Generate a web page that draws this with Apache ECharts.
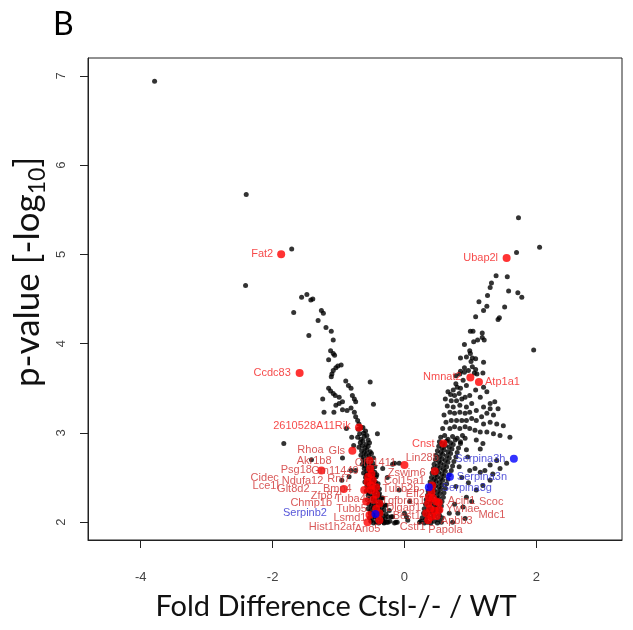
<!DOCTYPE html>
<html><head><meta charset="utf-8">
<script src="https://cdn.jsdelivr.net/npm/echarts@6.0.0/dist/echarts.min.js"></script>
<style>html,body{margin:0;padding:0;background:#fff}#c{width:633px;height:630px}</style>
</head><body><div id="c"></div>
<script>
// ---------------- data ----------------
const xTicks = [-4, -2, 0, 2];
const yTicks = [2, 3, 4, 5, 6, 7];

// unlabelled genes: [fold difference, -log10 p]
const otherGenes = [
[-3.79,6.94],[-2.40,5.67],[-1.71,5.06],[-2.41,4.65],
[-1.56,4.52],[-1.48,4.55],[-1.42,4.49],[-1.39,4.50],[-1.68,4.35],[-1.26,4.37],[-1.23,4.34],[-1.31,4.26],[-1.45,4.09],[-1.19,4.18],[-1.11,4.14],[-1.08,4.04],[-1.12,3.92],[-1.08,3.89],[-1.06,3.87],[-1.15,3.82],[-1.01,3.75],[-0.96,3.76],[-1.04,3.73],[-1.08,3.70],[-1.10,3.66],[-1.11,3.63],
[-0.52,3.57],[-0.89,3.58],[-0.85,3.53],[-0.81,3.50],[-0.79,3.42],[-0.76,3.38],[-0.74,3.35],[-0.81,3.28],[-0.76,3.23],[-0.74,3.18],[-0.71,3.14],[-0.69,3.10],[-0.66,3.06],
[-1.15,3.50],[-1.12,3.47],[-1.08,3.44],[-1.05,3.42],[-1.24,3.38],[-0.99,3.40],[-0.99,3.33],[-0.94,3.35],[-1.04,3.31],[-1.22,3.23],[-1.07,3.23],[-0.94,3.26],[-0.87,3.25],
[-0.47,3.32],[-0.41,2.99],[-1.83,2.88],[-1.41,2.70],[-0.94,2.72],[-0.81,2.58],[-0.84,2.51],[-0.74,2.58],[-0.95,2.47],[-0.88,3.05],[-0.80,2.95],[-0.77,2.86],
[-0.70,3.04],[-0.63,3.06],[-0.59,3.02],[-0.68,2.99],[-0.62,3.00],[-0.57,2.97],
[-0.71,2.95],[-0.66,2.93],[-0.61,2.96],[-0.55,2.92],[-0.67,2.89],[-0.63,2.91],[-0.58,2.87],[-0.53,2.89],
[-0.69,2.84],[-0.64,2.86],[-0.60,2.83],[-0.55,2.85],[-0.65,2.80],[-0.61,2.78],[-0.57,2.81],[-0.52,2.79],
[-0.66,2.75],[-0.62,2.73],[-0.58,2.76],[-0.54,2.74],[-0.50,2.77],[-0.63,2.70],[-0.59,2.68],[-0.55,2.71],[-0.51,2.69],[-0.47,2.72],
[-0.64,2.65],[-0.60,2.63],[-0.56,2.66],[-0.52,2.64],[-0.48,2.66],[-0.61,2.60],[-0.57,2.58],[-0.54,2.61],[-0.49,2.59],[-0.45,2.62],
[-0.62,2.55],[-0.58,2.53],[-0.53,2.56],[-0.49,2.54],[-0.45,2.56],[-0.42,2.53],[-0.59,2.50],[-0.55,2.48],[-0.51,2.51],[-0.47,2.49],[-0.43,2.51],
[-0.60,2.45],[-0.56,2.43],[-0.52,2.46],[-0.48,2.44],[-0.44,2.45],[-0.40,2.43],[-0.57,2.40],[-0.53,2.38],[-0.49,2.41],[-0.45,2.39],[-0.41,2.40],[-0.38,2.37],
[-0.58,2.35],[-0.54,2.33],[-0.50,2.36],[-0.46,2.34],[-0.42,2.35],[-0.38,2.32],[-0.55,2.30],[-0.51,2.28],[-0.47,2.31],[-0.43,2.29],[-0.39,2.30],[-0.35,2.27],
[-0.56,2.25],[-0.52,2.23],[-0.48,2.26],[-0.44,2.24],[-0.40,2.25],[-0.36,2.22],[-0.54,2.20],[-0.50,2.18],[-0.46,2.21],[-0.42,2.19],[-0.38,2.20],[-0.34,2.17],[-0.30,2.19],
[-0.55,2.15],[-0.51,2.13],[-0.47,2.16],[-0.43,2.14],[-0.39,2.15],[-0.35,2.12],[-0.31,2.14],[-0.52,2.10],[-0.48,2.08],[-0.44,2.11],[-0.40,2.09],[-0.36,2.10],[-0.32,2.07],[-0.28,2.09],
[-0.53,2.05],[-0.49,2.03],[-0.45,2.06],[-0.41,2.04],[-0.37,2.05],[-0.33,2.02],[-0.29,2.04],[-0.25,2.06],
[-0.51,2.01],[-0.47,1.99],[-0.43,2.00],[-0.39,1.99],[-0.35,2.01],[-0.31,1.99],[-0.27,2.00],[-0.22,2.01],
[-0.23,2.13],[-0.18,2.06],[-0.25,2.00],[-0.13,2.00],[-0.28,2.19],[-0.15,1.99],[0.00,2.10],[0.05,2.02],[0.08,2.23],[0.03,2.06],[0.23,2.00],
[-0.18,2.65],[-0.08,2.66],[-0.33,2.60],[-0.15,2.66],[-0.26,2.50],[-0.08,2.36],[-0.33,2.27],[-0.20,2.06],[-0.31,2.00],[-0.11,2.00],
[0.89,3.59],[0.94,3.53],[0.80,3.51],[0.74,3.48],[0.70,3.43],[0.76,3.42],[0.83,3.44],[0.71,3.36],[0.79,3.36],[0.87,3.38],[0.92,3.40],[0.99,3.42],[1.08,3.48],[1.20,3.51],[1.25,3.46],[1.15,3.40],
[1.02,3.33],[0.94,3.29],[0.84,3.31],[0.74,3.29],[0.69,3.23],[0.76,3.22],[0.84,3.23],[0.92,3.22],[0.99,3.23],[1.09,3.25],[1.20,3.29],[1.30,3.33],[1.37,3.35],[1.17,3.18],[1.25,3.22],[1.35,3.20],
[0.71,3.14],[0.79,3.14],[0.87,3.14],[0.94,3.14],[1.02,3.16],[1.09,3.14],[1.20,3.10],[1.30,3.12],[1.40,3.10],[1.50,3.08],[0.69,3.05],[0.76,3.07],[0.84,3.05],[0.92,3.07],[0.99,3.05],[1.07,3.03],[1.15,3.01],[1.25,3.01],[1.35,2.99],[1.45,2.97],[1.60,2.95],
[0.62,3.38],[0.65,3.30],[0.60,3.20],[0.63,3.12],[0.58,3.05],[0.66,3.46],[0.78,3.55],[0.85,3.50],[1.42,3.27],[1.30,3.27],
[1.73,5.41],[2.05,5.08],[1.70,5.02],[1.39,4.76],[1.56,4.75],[1.32,4.68],[1.30,4.63],[1.58,4.59],[1.72,4.57],[1.78,4.52],[1.26,4.54],[1.13,4.47],[1.25,4.42],[1.20,4.37],[1.52,4.41],[1.44,4.29],[1.42,4.27],[1.08,4.30],
[1.00,4.14],[1.04,4.14],[1.18,4.12],[1.18,4.07],[1.21,4.04],[1.11,4.04],[1.05,4.02],[0.91,3.99],[1.96,3.93],[0.99,3.92],[1.00,3.89],[0.85,3.84],[0.94,3.85],[1.03,3.84],[1.08,3.83],[1.01,3.80],[1.20,3.79],
[0.91,3.73],[0.97,3.70],[1.03,3.74],[1.08,3.71],[0.85,3.69],[0.84,3.66],[1.06,3.67],[0.91,3.68],[1.19,3.67],[1.10,3.66],[0.78,3.64],
[0.55,2.95],[0.61,2.97],[0.66,2.93],[0.73,2.96],[0.80,2.94],[0.88,2.97],[0.53,2.90],[0.58,2.88],[0.64,2.91],[0.70,2.89],[0.77,2.92],[0.85,2.88],
[0.52,2.85],[0.57,2.83],[0.62,2.86],[0.68,2.84],[0.74,2.87],[0.82,2.83],[0.50,2.80],[0.55,2.78],[0.60,2.81],[0.66,2.79],[0.72,2.82],[0.80,2.78],
[0.48,2.75],[0.53,2.73],[0.58,2.76],[0.64,2.74],[0.70,2.77],[0.78,2.73],[0.47,2.70],[0.52,2.68],[0.57,2.71],[0.62,2.69],[0.68,2.72],[0.75,2.68],
[0.45,2.65],[0.50,2.63],[0.55,2.66],[0.60,2.64],[0.66,2.67],[0.73,2.63],[0.44,2.60],[0.49,2.58],[0.54,2.61],[0.59,2.59],[0.64,2.62],[0.71,2.58],
[0.42,2.55],[0.47,2.53],[0.52,2.56],[0.57,2.54],[0.62,2.57],[0.68,2.53],[0.41,2.50],[0.45,2.48],[0.50,2.51],[0.55,2.49],[0.60,2.52],[0.66,2.48],
[0.39,2.45],[0.44,2.43],[0.48,2.46],[0.53,2.44],[0.58,2.47],[0.64,2.43],[0.38,2.40],[0.42,2.38],[0.47,2.41],[0.52,2.39],[0.57,2.42],[0.62,2.38],
[0.36,2.35],[0.41,2.33],[0.45,2.36],[0.50,2.34],[0.55,2.37],[0.60,2.33],[0.35,2.30],[0.39,2.28],[0.44,2.31],[0.49,2.29],[0.54,2.32],[0.59,2.28],
[0.33,2.25],[0.38,2.23],[0.42,2.26],[0.47,2.24],[0.52,2.27],[0.57,2.23],[0.32,2.20],[0.36,2.18],[0.41,2.21],[0.46,2.19],[0.51,2.22],[0.56,2.18],
[0.30,2.15],[0.35,2.13],[0.39,2.16],[0.44,2.14],[0.49,2.17],[0.54,2.13],[0.29,2.10],[0.33,2.08],[0.38,2.11],[0.43,2.09],[0.48,2.12],[0.53,2.08],
[0.27,2.05],[0.32,2.03],[0.36,2.06],[0.41,2.04],[0.46,2.07],[0.51,2.03],[0.57,2.05],[0.25,2.01],[0.30,1.99],[0.35,2.00],[0.40,1.99],[0.45,2.01],[0.50,1.99],[0.56,2.00],
[0.92,2.94],[1.15,2.82],[0.99,2.58],[1.07,2.60],[1.15,2.56],[1.22,2.58],[1.30,2.64],[1.34,2.54],[0.87,2.50],[0.97,2.44],[1.45,2.60],[1.55,2.66],[1.40,2.69],[0.94,2.81],[1.09,2.92],[1.19,2.88],[0.96,2.73],
[1.19,2.41],[1.30,2.47],[1.09,2.36],[0.94,2.28],[1.02,2.23],[0.89,2.17],[0.81,2.10],[0.92,2.04],[0.73,2.00],[0.85,2.90],[0.83,2.62],[0.78,2.40],[0.76,2.20],[0.68,2.10]
];

// highlighted genes (red)
const redGenes = ["Fat2","Ccdc83","2610528A11Rik","Gls","Psg18","Rhoa","Akr1b8","Gm11449","Cidec","Rnf7","Ndufa12","Bmp4","","Lce1l","Glt8d2","","Zfp87","Tuba4a","Chmp1b","","Tubb5","Hist1h2af","Lsmd1","Ano5","","Olfr1411",
  "Ubap2l","Nmnat2","Atp1a1","Cnst","Lin28b","Zswim6","Col15a1","Tubb2b","Efl2","Acin1","Tgfbrap1","Dlgap1","Ywhae","Best1","Papola","Cstf1","Apbb3","Scoc","Mdc1"];
const redFold = [-1.87,-1.59,-0.69,-0.79,-1.26,-0.53,-0.52,-0.50,-0.55,-0.48,-0.56,-0.51,-0.43,-0.61,-0.51,-0.43,-0.92,-0.47,-0.58,-0.38,-0.43,-0.53,-0.38,-0.56,-0.38,0.00,
  1.55,1.00,1.13,0.59,0.46,0.42,0.41,0.37,0.43,0.48,0.36,0.39,0.46,0.33,0.41,0.36,0.49,0.52,0.53];
const redP = [5.00,3.67,3.06,2.80,2.58,2.69,2.60,2.54,2.51,2.47,2.45,2.41,2.39,2.36,2.36,2.31,2.37,2.25,2.23,2.21,2.15,2.08,2.10,2.00,2.02,2.64,
  4.96,3.62,3.57,2.88,2.57,2.41,2.34,2.28,2.27,2.23,2.21,2.15,2.13,2.10,2.06,2.02,2.07,2.22,2.14];

// highlighted genes (blue)
const blueGenes = ["Serpina3h","Serpina3n","Serpina3g","Serpinb2"];
const blueFold = [1.66,0.69,0.37,-0.44];
const blueP = [2.71,2.51,2.39,2.09];

// ---------------- label layout (pixel offsets from point) ----------------
const labelOffsets = {
  "Fat2":[-19,0],"Ccdc83":[-27.5,0],"2610528A11Rik":[-47,-2],"Gls":[-15.5,0],"Psg18":[-25,0],"Rhoa":[-59,-11],"Akr1b8":[-56,-8],
  "Gm11449":[-36.5,-3],"Cidec":[-103.5,1],"Rnf7":[-34,-1],"Ndufa12":[-65,-1],"Bmp4":[-33.5,3],"Lce1l":[-98.5,-4],"Glt8d2":[-77.5,-1],
  "Zfp87":[-19,7],"Tuba4a":[-20,-1],"Chmp1b":[-55,1],"Tubb5":[-24.5,0],"Hist1h2af":[-37.5,12],"Lsmd1":[-29.5,5],"Ano5":[0,7],"Olfr1411":[-29,-2],
  "Ubap2l":[-26,0],"Nmnat2":[-28,-1],"Atp1a1":[23.5,0],"Cnst":[-20,0],"Lin28b":[-12.5,-13],"Zswim6":[-25.5,-13],"Col15a1":[-27,-11],
  "Tubb2b":[-28,-8],"Efl2":[-17.5,-4],"Tgfbrap1":[-25,-2],"Dlgap1":[-26.5,-1],"Best1":[-19.5,3],"Cstf1":[-15.5,7],"Papola":[14,13],
  "Acin1":[25.5,-1],"Ywhae":[28,-2],"Apbb3":[20,5],"Scoc":[52.5,-1],"Mdc1":[52.5,5],
  "Serpina3h":[-33.5,0],"Serpina3n":[32,0],"Serpina3g":[38,1],"Serpinb2":[-70.5,-1]
};
const brightLabels = ["Fat2","Ccdc83","2610528A11Rik","Ubap2l","Nmnat2","Atp1a1","Cnst"];

const LABEL_FONT = "Liberation Sans";
function items(names, xs, ys, color) {
  return names.map((n, i) => ({
    name: n,
    value: [xs[i], ys[i]],
    label: {
      show: n !== "",
      offset: labelOffsets[n] || [0, 0],
      color: color === 'blue' ? '#2b2bd0' : (brightLabels.includes(n) ? '#f41c1c' : '#cf2e2e')
    }
  }));
}
const pointLabel = {
  position: 'inside', formatter: '{b}', fontSize: 11, fontFamily: LABEL_FONT,
  align: 'center', verticalAlign: 'middle'
};

const chart = echarts.init(document.getElementById('c'), null, {renderer: 'canvas'});
chart.setOption({
  animation: false,
  backgroundColor: '#fff',
  grid: {left: 88, top: 58, width: 534, height: 482, show: true, borderColor: '#222', borderWidth: 1},
  xAxis: {
    type: 'value', min: -4.8, max: 3.3, z: 10,
    splitLine: {show: false}, axisLine: {show: true, onZero: false, lineStyle: {color: '#222', width: 1}},
    axisTick: {show: true, customValues: xTicks, length: 8, lineStyle: {color: '#222', width: 1}},
    axisLabel: {customValues: xTicks, margin: 31, fontSize: 13, color: '#444', fontFamily: LABEL_FONT}
  },
  yAxis: {
    type: 'value', min: 1.8, max: 7.2, z: 10,
    splitLine: {show: false}, axisLine: {show: true, onZero: false, lineStyle: {color: '#222', width: 1}},
    axisTick: {show: true, customValues: yTicks, length: 8, lineStyle: {color: '#222', width: 1}},
    axisLabel: {customValues: yTicks, rotate: 90, margin: 20, fontSize: 13, color: '#444', fontFamily: LABEL_FONT}
  },
  series: [
    {type: 'scatter', data: otherGenes, symbolSize: 5, itemStyle: {color: '#000'}, silent: true, z: 2},
    {type: 'scatter', data: items(redGenes, redFold, redP, 'red'), symbolSize: 8, itemStyle: {color: '#ff0000'}, label: pointLabel, silent: true, z: 3},
    {type: 'scatter', data: items(blueGenes, blueFold, blueP, 'blue'), symbolSize: 8, itemStyle: {color: '#0000ff'}, label: pointLabel, silent: true, z: 4}
  ],
  graphic: [
    {type: 'text', x: 53, y: 9, style: {text: 'B', font: '32px Lato', fill: '#000'}},
    {type: 'text', x: 336, y: 607, style: {text: 'Fold Difference Ctsl-/- / WT', font: '29px Lato', fill: '#111', align: 'center', verticalAlign: 'middle'}},
    {type: 'text', x: 28, y: 272, rotation: Math.PI / 2,
     style: {text: '{a|p-value [-log}{s|10}{a|]}', align: 'center', verticalAlign: 'middle', fill: '#111',
       rich: {a: {fontSize: 35, fontFamily: 'Lato', lineHeight: 42, fill: '#111'},
              s: {fontSize: 23, fontFamily: 'Lato', lineHeight: 42, verticalAlign: 'bottom', fill: '#111'}}}}
  ]
});
</script></body></html>
